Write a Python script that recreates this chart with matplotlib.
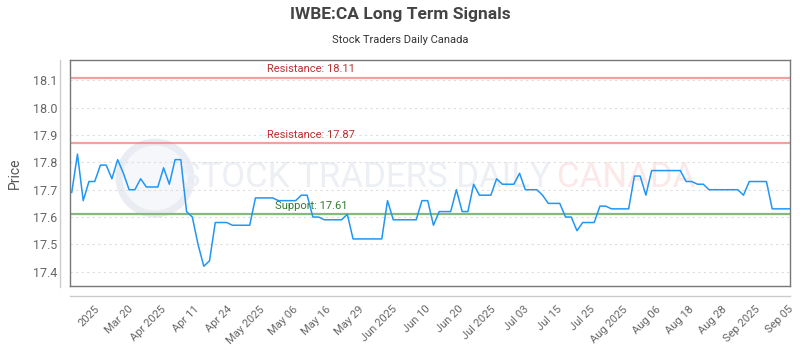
import numpy as np
import matplotlib.pyplot as plt
from matplotlib.lines import Line2D
from matplotlib.patches import Circle

title = 'IWBE:CA Long Term Signals'
subtitle = 'Stock Traders Daily Canada'

prices = [
    17.69, 17.83, 17.66, 17.73, 17.73, 17.79, 17.79, 17.74, 17.81, 17.76,
    17.70, 17.70, 17.74, 17.71, 17.71, 17.71, 17.78, 17.72, 17.81, 17.81,
    17.62, 17.60, 17.50, 17.42, 17.44, 17.58, 17.58, 17.58, 17.57, 17.57,
    17.57, 17.57, 17.67, 17.67, 17.67, 17.67, 17.66, 17.66, 17.66, 17.66,
    17.68, 17.68, 17.60, 17.60, 17.59, 17.59, 17.59, 17.59, 17.61, 17.52,
    17.52, 17.52, 17.52, 17.52, 17.52, 17.66, 17.59, 17.59, 17.59, 17.59,
    17.59, 17.66, 17.66, 17.57, 17.62, 17.62, 17.62, 17.70, 17.62, 17.62,
    17.72, 17.68, 17.68, 17.68, 17.74, 17.72, 17.72, 17.72, 17.76, 17.70,
    17.70, 17.70, 17.68, 17.65, 17.65, 17.65, 17.60, 17.60, 17.55, 17.58,
    17.58, 17.58, 17.64, 17.64, 17.63, 17.63, 17.63, 17.63, 17.75, 17.75,
    17.68, 17.77, 17.77, 17.77, 17.77, 17.77, 17.77, 17.73, 17.73, 17.72,
    17.72, 17.70, 17.70, 17.70, 17.70, 17.70, 17.70, 17.68, 17.73, 17.73,
    17.73, 17.73, 17.63, 17.63, 17.63, 17.63,
]
tick_labels = ['2025', 'Mar 20', 'Apr 2025', 'Apr 11', 'Apr 24', 'May 2025',
               'May 06', 'May 16', 'May 29', 'Jun 2025', 'Jun 10', 'Jun 20',
               'Jul 2025', 'Jul 03', 'Jul 15', 'Jul 25', 'Aug 2025', 'Aug 06',
               'Aug 18', 'Aug 28', 'Sep 2025', 'Sep 05']
resistance = [18.11, 17.87]
support = [17.61]

plt.rcParams['font.family'] = ['Roboto', 'DejaVu Sans']

fig = plt.figure(figsize=(8, 3.5), dpi=100)
ax = fig.add_axes([0.0875, 0.183, 0.9, 0.646])
ax.set_zorder(1)
ax.patch.set_alpha(0)

x = np.arange(len(prices))

# faint watermark behind the axes
fig.patches.append(Circle((1.55, 1.72), 0.36, transform=fig.dpi_scale_trans,
                          facecolor='#f5f7fa', edgecolor='#e9ecf2', lw=5, zorder=0))
ax.text(0.668, 0.48, 'STOCK TRADERS DAILY', transform=ax.transAxes, ha='right',
        va='center', fontsize=25, color='#eceff4', zorder=0)
ax.text(0.676, 0.48, 'CANADA', transform=ax.transAxes, ha='left',
        va='center', fontsize=25, color='#fce8e8', zorder=0)

for r in resistance:
    ax.axhline(r, color='#f08a86', lw=1.6, alpha=0.8, zorder=2)
    ax.text(0.335, r + 0.012, f'Resistance: {r:.2f}', transform=ax.get_yaxis_transform(),
            ha='center', va='bottom', fontsize=8, color='#b83232')
for s in support:
    ax.axhline(s, color='#86b97c', lw=1.6, zorder=2)
    ax.text(0.335, s + 0.012, f'Support: {s:.2f}', transform=ax.get_yaxis_transform(),
            ha='center', va='bottom', fontsize=8, color='#2f7a2f')

ax.plot(x, prices, color='#2196f3', lw=1.1, zorder=3)

ax.set_xlim(-0.3, len(prices) - 0.9)
ax.set_ylim(17.348, 18.175)
ax.set_yticks(np.arange(17.4, 18.15, 0.1))
ax.set_yticklabels([f'{v:.1f}' for v in np.arange(17.4, 18.15, 0.1)])
ax.grid(axis='y', color='#dddddd', ls=(0, (2, 3)), lw=0.8)
ax.set_axisbelow(True)

ticks = np.linspace(4, len(prices) - 1.3, len(tick_labels))
ax.set_xticks(ticks)
ax.set_xticklabels(tick_labels, rotation=45, ha='right', rotation_mode='anchor')
ax.tick_params(axis='x', length=0, pad=13, labelsize=8, labelcolor='#666666')
ax.tick_params(axis='y', length=0, pad=9, labelsize=9, labelcolor='#666666')

for sp in ax.spines.values():
    sp.set_color('#777777')
    sp.set_linewidth(1.0)

ax.set_ylabel('Price', fontsize=10, color='#555555', labelpad=8)

# light outer axis lines
fig.add_artist(Line2D([0.0875, 0.9875], [1 - 296 / 350] * 2, color='#cccccc', lw=1))
fig.add_artist(Line2D([60 / 800] * 2, [1 - 287 / 350, 1 - 60 / 350], color='#cccccc', lw=1))

fig.text(0.5, 1 - 15 / 350, title, ha='center', va='center', fontsize=12.5,
         fontweight='bold', color='#444444')
fig.text(0.5, 1 - 40 / 350, subtitle, ha='center', va='center', fontsize=8,
         color='#333333')

fig.savefig('out.png', dpi=100)
